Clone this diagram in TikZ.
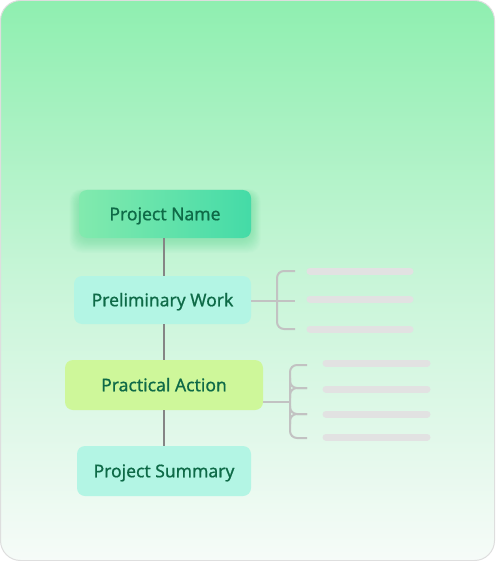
\documentclass[tikz,border=0pt]{standalone}
\usepackage{fontspec}
\setmainfont{Noto Sans}
\newfontfamily\medfont{Noto Sans}[FakeBold=0.8]
\definecolor{bgtop}{HTML}{8FEFB0}
\definecolor{bgmid}{HTML}{C8F5D8}
\definecolor{bgbot}{HTML}{F6FBF8}
\definecolor{txt}{HTML}{0E6A47}
\definecolor{mint}{HTML}{B3F5E4}
\definecolor{lime}{HTML}{CEF79A}
\definecolor{pnA}{HTML}{82EAAE}
\definecolor{pnB}{HTML}{44DBA7}
\definecolor{glow}{HTML}{5FE09A}
\definecolor{conn}{HTML}{858585}
\definecolor{brk}{HTML}{C2C2C2}
\definecolor{barc}{HTML}{E2E2E2}
\tikzset{
  box/.style={rounded corners=8pt, text=txt, font=\medfont\fontsize{17.5}{20}\selectfont, inner sep=0pt, align=center, text height=12.5pt, text depth=0pt},
  mainline/.style={draw=conn, line width=2pt},
  brline/.style={draw=brk, line width=2pt, rounded corners=7pt},
  bar/.style={draw=barc, line width=7pt, line cap=round},
}
\begin{document}
\begin{tikzpicture}[x=1pt,y=-1pt]
\useasboundingbox (0,0) rectangle (495,561);
% background
\shade[rounded corners=20pt, top color=bgtop, bottom color=bgbot, middle color=bgmid] (0.5,0.5) rectangle (494.5,560.5);
\draw[rounded corners=20pt, draw=black!13, line width=1pt] (0.5,0.5) rectangle (494.5,560.5);
% glow under Project Name
\foreach \g in {1,2,...,16}{
  \fill[glow, opacity=0.03, rounded corners=12pt] (79-\g*0.6,194-\g*0.3) rectangle (251+\g*0.6,240+\g*0.8);
}
% nodes
\node[box, minimum width=172pt, minimum height=48pt, left color=pnA, right color=pnB] (pn) at (165,214) {Project Name};
\node[box, minimum width=177pt, minimum height=48pt, fill=mint] (pw) at (162.5,300) {Preliminary Work};
\node[box, minimum width=198pt, minimum height=50pt, fill=lime] (pa) at (164,385) {Practical Action};
\node[box, minimum width=174pt, minimum height=50pt, fill=mint] (ps) at (164,471) {Project Summary};
% main connectors
\draw[mainline] (pn.south -| 164,0) -- (pw.north -| 164,0);
\draw[mainline] (pw.south -| 164,0) -- (pa.north -| 164,0);
\draw[mainline] (pa.south -| 164,0) -- (ps.north -| 164,0);
% bracket 1
\coordinate (b1m) at (295,301);
\draw[draw=brk, line width=2pt] (pw.east |- b1m) -- (b1m);
\draw[brline] (295,271) -- (277,271) -- (277,329) -- (295,329);
\draw[bar] (310,271) -- (410,271);
\draw[bar] (310,299) -- (410,299);
\draw[bar] (310,329) -- (410,329);
% bracket 2
\coordinate (b2j) at (290,402);
\draw[draw=brk, line width=2pt] (pa.east |- b2j) -- (b2j);
\draw[brline] (307,365) -- (290,365) -- (290,438) -- (307,438);
\draw[brline] (290,378) -- (290,388) -- (307,388);
\draw[brline] (290,398) -- (290,388) -- (307,388);
\draw[brline] (290,406) -- (290,414) -- (307,414);
\draw[brline] (290,424) -- (290,414) -- (307,414);
\draw[bar] (326,363) -- (427,363);
\draw[bar] (326,389) -- (427,389);
\draw[bar] (326,414) -- (427,414);
\draw[bar] (326,437) -- (427,437);
\end{tikzpicture}
\end{document}
